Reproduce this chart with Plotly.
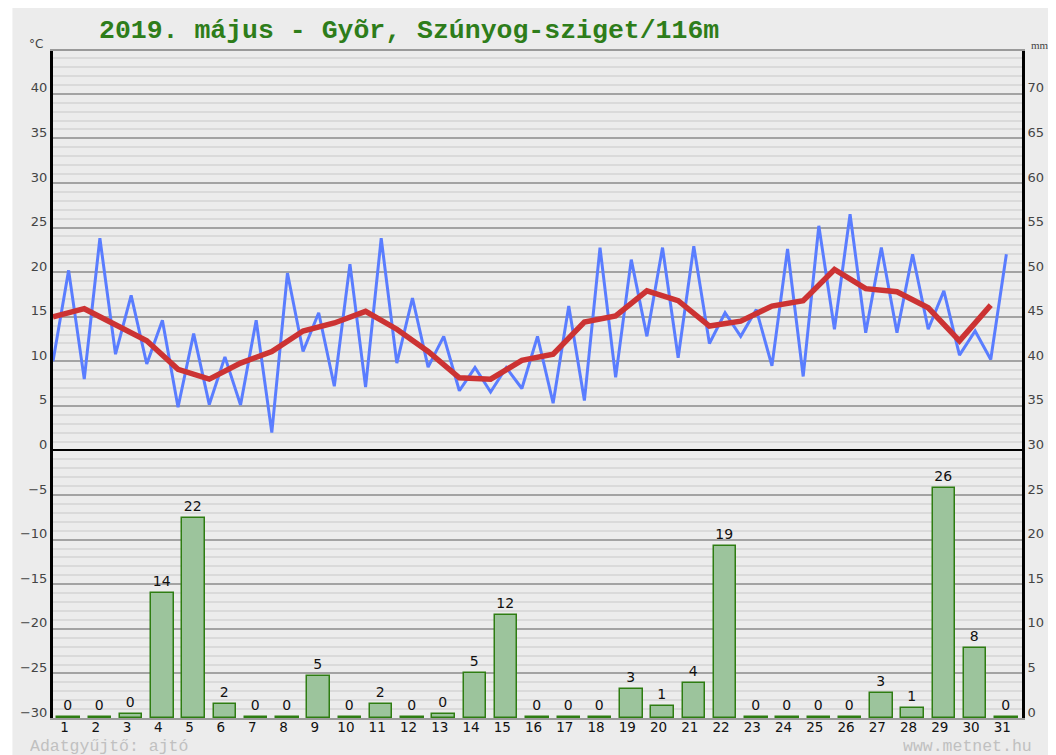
import plotly.graph_objects as go

# ---- data ----
days = list(range(1, 32))
day_labels = [str(d) for d in days]
t_min = [10.0, 8.0, 10.8, 9.7, 4.85, 5.15, 5.1, 2.0, 11.1, 7.2, 7.1, 9.8, 9.35, 6.7, 6.55, 6.95,
         5.3, 5.6, 8.2, 12.8, 10.4, 12.0, 12.8, 9.5, 8.3, 13.6, 13.2, 13.2, 13.6, 10.7, 10.2]
t_max = [20.2, 23.8, 17.4, 14.6, 13.1, 10.5, 14.6, 19.9, 15.45, 20.9, 23.8, 17.1, 12.8, 9.3, 9.3, 12.8,
         16.2, 22.75, 21.4, 22.75, 22.9, 15.45, 15.8, 22.6, 25.2, 26.5, 22.75, 22.0, 17.9, 13.4, 22.0]
t_mean = [15.0, 15.9, 14.1, 12.3, 9.1, 8.0, 9.8, 11.1, 13.4, 14.3, 15.6, 13.6, 11.1, 8.15, 8.0, 10.1,
          10.8, 14.4, 15.1, 17.9, 16.8, 13.95, 14.5, 16.2, 16.8, 20.3, 18.15, 17.8, 16.0, 12.3, 16.3]
precip = [0, 0, 0.4, 14.0, 22.4, 1.6, 0, 0, 4.7, 0, 1.6, 0, 0.4, 5.0, 11.6, 0, 0, 0, 3.2, 1.3, 3.9,
          19.3, 0, 0, 0, 0, 2.8, 1.1, 25.8, 7.9, 0]
temp_ticks = list(range(-30, 41, 5))
mm_ticks = list(range(0, 71, 5))

title_text = "2019. május - Gyõr, Szúnyog-sziget/116m"

# ---- geometry (page has an 8px body margin) ----
OFF = 8
W, H = 1056 - OFF, 755 - OFF
ML, MT = 51 - OFF, 51 - OFF
MR = W - (1030 - OFF)
MB = 37
PW, PH = W - ML - MR, H - MT - MB
def px(x):
    return (x - OFF - ML) / PW
def py(y):
    return 1 - (y - OFF - MT) / PH

# blue zigzag: min at d-0.5, max at d
bx, by = [], []
for d, lo, hi in zip(days, t_min, t_max):
    bx += [d - 0.5, d]
    by += [lo, hi]
mean_x = [d - 0.5 for d in days]

bar_disp = [max(v, 0.15) for v in precip]
bar_text = [str(int(round(v))) for v in precip]

fig = go.Figure()
fig.add_trace(go.Bar(
    x=days, y=bar_disp, yaxis="y2", width=0.72,
    marker=dict(color="#9cc49c", line=dict(color="#2e7d12", width=1.5)),
    text=bar_text, textposition="outside", cliponaxis=False,
    textfont=dict(family="DejaVu Sans", size=14, color="#111"),
    hoverinfo="skip", showlegend=False))
fig.add_trace(go.Scatter(
    x=bx, y=by, mode="lines", line=dict(color="#5a7dff", width=3),
    showlegend=False, hoverinfo="skip"))
fig.add_trace(go.Scatter(
    x=mean_x, y=t_mean, mode="lines", line=dict(color="#cc3333", width=5.5),
    showlegend=False, hoverinfo="skip"))

gray_box = dict(type="rect", xref="paper", yref="paper",
                x0=px(10), x1=px(1060), y0=py(760), y1=py(8),
                fillcolor="#ececec", line=dict(width=0), layer="below")

annotations = [
    dict(text=title_text, x=px(95), y=py(31.5), xref="paper", yref="paper",
         xanchor="left", yanchor="middle", showarrow=False,
         font=dict(family="Liberation Mono", size=26.5, color="#2e7d1a", weight="bold")),
    dict(text="°C", x=px(34), y=py(44), xref="paper", yref="paper",
         xanchor="center", yanchor="middle", showarrow=False,
         font=dict(family="DejaVu Sans", size=12, color="#444")),
    dict(text="mm", x=px(1037), y=py(45), xref="paper", yref="paper",
         xanchor="left", yanchor="middle", showarrow=False,
         font=dict(family="Liberation Serif", size=11, color="#444")),
    dict(text="Adatgyűjtő: ajtó", x=px(27), y=py(746), xref="paper", yref="paper",
         xanchor="left", yanchor="middle", showarrow=False, height=16, borderpad=0,
         font=dict(family="Liberation Mono", size=16.5, color="#c0c0c0")),
    dict(text="www.metnet.hu", x=px(1041), y=py(746), xref="paper", yref="paper",
         xanchor="right", yanchor="middle", showarrow=False, height=16, borderpad=0,
         font=dict(family="Liberation Mono", size=16.5, color="#c0c0c0")),
]

fig.update_layout(
    width=W, height=H,
    margin=dict(l=ML, r=MR, t=MT, b=MB, pad=0),
    paper_bgcolor="white", plot_bgcolor="rgba(0,0,0,0)",
    shapes=[gray_box], annotations=annotations,
    bargap=0,
    xaxis=dict(range=[0.5, 31.5], tickvals=days, ticktext=day_labels,
               ticklabelshift=-4, ticklabelstandoff=-4, showgrid=False, zeroline=False,
               showline=True, mirror=True, linecolor="#9a9a9a", linewidth=1.5,
               ticks="", tickfont=dict(family="DejaVu Sans", size=13.5, color="#111")),
    yaxis=dict(range=[-30, 44.8], tickvals=temp_ticks, ticks="",
               showgrid=True, gridcolor="#a3a3a3", gridwidth=1.5,
               minor=dict(dtick=1, showgrid=True, gridcolor="#dadada", gridwidth=1.5),
               zeroline=True, zerolinecolor="black", zerolinewidth=2,
               showline=True, linecolor="black", linewidth=3,
               ticklabelshift=-6,
               tickfont=dict(family="DejaVu Sans", size=13, color="#444")),
    yaxis2=dict(range=[0, 74.8], tickvals=mm_ticks, overlaying="y", side="right",
                showgrid=False, zeroline=False, ticks="",
                showline=True, linecolor="black", linewidth=3,
                ticklabelshift=-6,
                tickfont=dict(family="DejaVu Sans", size=13, color="#444")),
)

fig.write_html("out.html")
